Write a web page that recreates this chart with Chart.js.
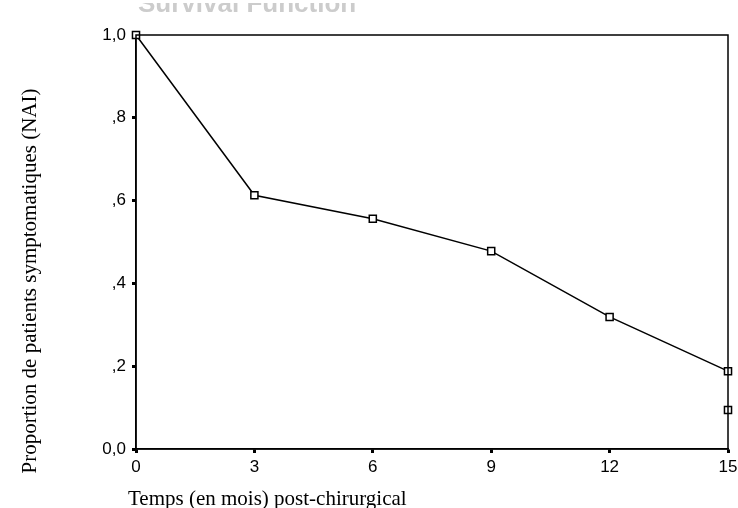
<!DOCTYPE html>
<html>
<head>
<meta charset="utf-8">
<script src="https://cdn.jsdelivr.net/npm/chart.js@4"></script>
<style>
  html, body { margin: 0; padding: 0; background: #fff; }
  #wrap { width: 738px; height: 508px; position: relative; }
</style>
</head>
<body>
<div id="wrap"><canvas id="graphique"></canvas></div>
<script>
// Données
const mois = [0, 3, 6, 9, 12, 15];
const proportion = [1.0, 0.613, 0.556, 0.478, 0.319, 0.188];
const censureMois = [15];
const censureProportion = [0.094];
const ticksY = [0, 0.2, 0.4, 0.6, 0.8, 1.0];
const labelsY = ["0,0", ",2", ",4", ",6", ",8", "1,0"];

const titreX = "Temps (en mois) post-chirurgical";
const titreY = "Proportion de patients symptomatiques (NAI)";
const titreHaut = "Survival Function";

// Cadre autour de la zone de tracé + titres des axes
const cadreEtTitres = {
  id: "cadreEtTitres",
  afterDraw(chart) {
    const ctx = chart.ctx;
    const a = chart.chartArea;
    ctx.save();
    ctx.strokeStyle = "#000";
    ctx.lineWidth = 1.5;
    ctx.strokeRect(a.left, a.top, a.right - a.left, a.bottom - a.top);

    ctx.fillStyle = "#000";
    ctx.font = "21px 'Liberation Serif'";
    ctx.textBaseline = "middle";
    ctx.textAlign = "left";
    ctx.fillText(titreX, 128, 499);

    ctx.translate(30, 281);
    ctx.rotate(-Math.PI / 2);
    ctx.textAlign = "center";
    ctx.fillText(titreY, 0, 0);
    ctx.restore();

    // titre du haut, coupé par le bord comme sur l'original
    ctx.save();
    ctx.beginPath();
    ctx.rect(0, 3, chart.width, 12);
    ctx.clip();
    ctx.fillStyle = "#cccccc";
    ctx.font = "bold 26px 'Liberation Sans'";
    ctx.textBaseline = "alphabetic";
    ctx.fillText(titreHaut, 138, 12);
    ctx.restore();
  },
};

const ctx = document.getElementById("graphique").getContext("2d");
new Chart(ctx, {
  type: "line",
  data: {
    datasets: [
      {
        data: mois.map((m, i) => ({ x: m, y: proportion[i] })),
        borderColor: "#000",
        borderWidth: 1.5,
        pointStyle: "rect",
        pointRadius: 5,
        pointBorderWidth: 1.5,
        pointBorderColor: "#000",
        pointBackgroundColor: "#fff",
        tension: 0,
        clip: false,
      },
      {
        data: censureMois.map((m, i) => ({ x: m, y: censureProportion[i] })),
        showLine: false,
        pointStyle: "rect",
        pointRadius: 5,
        pointBorderWidth: 1.5,
        pointBorderColor: "#000",
        pointBackgroundColor: "#fff",
        clip: false,
      },
    ],
  },
  options: {
    responsive: true,
    maintainAspectRatio: false,
    animation: false,
    layout: { padding: { top: 35, right: 0, left: 0, bottom: 0 } },
    plugins: {
      legend: { display: false },
      tooltip: { enabled: false },
    },
    scales: {
      x: {
        type: "linear",
        min: 0,
        max: 15,
        afterBuildTicks: (s) => { s.ticks = mois.map((v) => ({ value: v })); },
        afterFit: (s) => {
          s.height = 508 - 449;
          s.paddingRight = 10;
          s.paddingLeft = 0;
        },
        ticks: {
          color: "#000",
          font: { family: "'Liberation Sans'", size: 17 },
          padding: 4,
          maxRotation: 0,
        },
        grid: {
          drawOnChartArea: false,
          tickLength: 4,
          tickWidth: 3,
          tickColor: "#000",
        },
        border: { color: "#000", width: 1.5 },
      },
      y: {
        min: 0,
        max: 1,
        afterBuildTicks: (s) => { s.ticks = ticksY.map((v) => ({ value: v })); },
        afterFit: (s) => { s.width = 136; },
        ticks: {
          color: "#000",
          font: { family: "'Liberation Sans'", size: 17 },
          padding: 6,
          callback: (v) => labelsY[ticksY.indexOf(v)],
        },
        grid: {
          drawOnChartArea: false,
          tickLength: 4,
          tickWidth: 3,
          tickColor: "#000",
        },
        border: { color: "#000", width: 1.5 },
      },
    },
  },
  plugins: [cadreEtTitres],
});
</script>
</body>
</html>
